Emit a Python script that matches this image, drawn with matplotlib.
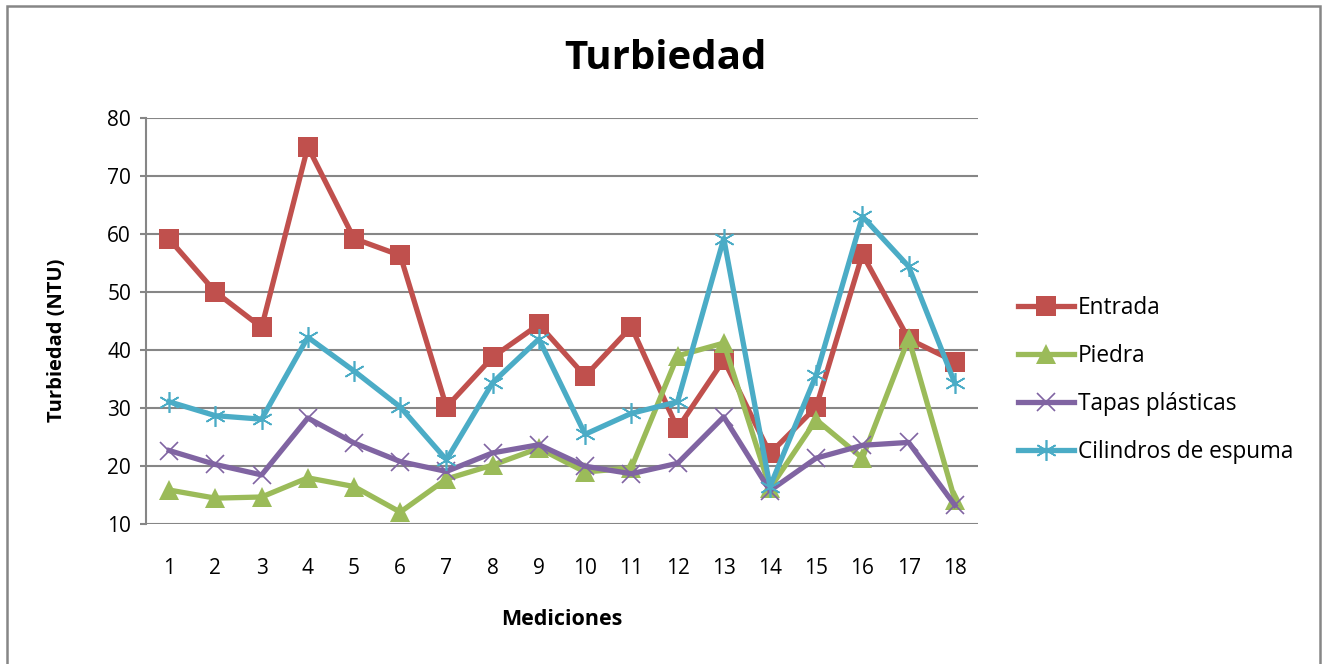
import numpy as np
import matplotlib
matplotlib.use("Agg")
import matplotlib.pyplot as plt
from matplotlib.patches import Rectangle

mediciones = list(range(1, 19))
entrada = [59.1, 50.0, 43.9, 75.0, 59.2, 56.3, 30.2, 38.8, 44.4,
           35.5, 44.0, 26.5, 38.3, 22.2, 30.2, 56.5, 41.9, 38.0]
piedra = [15.9, 14.5, 14.7, 18.0, 16.5, 12.1, 17.8, 20.2, 23.1,
          19.0, 19.7, 39.0, 41.2, 16.2, 28.0, 21.4, 42.0, 14.2]
tapas = [22.7, 20.3, 18.5, 28.3, 24.0, 20.8, 19.1, 22.3, 23.7,
         20.0, 18.7, 20.5, 28.5, 15.8, 21.4, 23.6, 24.1, 13.3]
cilindros = [31.1, 28.7, 28.1, 42.2, 36.4, 30.2, 21.1, 34.4, 41.9,
             25.5, 29.1, 31.1, 59.2, 16.5, 35.7, 63.0, 54.4, 34.3]

plt.rcParams['font.family'] = ['Open Sans', 'DejaVu Sans']

fig = plt.figure(figsize=(13.23, 6.64), dpi=100)
ax = fig.add_axes([0.1104, 0.2104, 0.6288, 0.6123])

series = [
    ("Entrada", entrada, "#C0504D", "s", 14, 0),
    ("Piedra", piedra, "#9BBB59", "^", 14, 0),
    ("Tapas plásticas", tapas, "#8064A2", "x", 13, 1.2),
    ("Cilindros de espuma", cilindros, "#4BACC6", (6, 2, 0), 15, 1.2),
]
for name, vals, col, mk, ms, mew in series:
    ax.plot(mediciones, vals, color=col, lw=3.8, marker=mk, ms=ms,
            markeredgewidth=mew, markeredgecolor=col, label=name,
            solid_joinstyle='round')

ax.set_xlim(0.5, 18.5)
ax.set_ylim(10, 80)
ax.set_yticks(range(10, 81, 10))
ax.set_xticks(mediciones)
ax.yaxis.grid(True, color="#868686", lw=1.5)
ax.set_axisbelow(True)
for s in ["top", "right", "bottom"]:
    ax.spines[s].set_visible(False)
ax.spines["left"].set_color("#868686")
ax.spines["left"].set_linewidth(1.5)
ax.tick_params(axis="y", length=4.3, width=1.5, color="#868686", labelsize=15, pad=6.5)
ax.tick_params(axis="x", length=0, labelsize=15, pad=24)

ax.set_xlabel("Mediciones", fontsize=15.5, fontweight="bold")
ax.xaxis.set_label_coords(0.5, -0.2353)
ax.xaxis.label.set_va("center")
ax.set_ylabel("Turbiedad (NTU)", fontsize=14.5, fontweight="bold")
ax.yaxis.set_label_coords(-0.107, 0.4535)
ax.yaxis.label.set_va("center")
fig.text(0.503, 0.912, "Turbiedad", fontsize=29, fontweight="bold",
         ha="center", va="center")

leg = fig.legend(loc="center left", bbox_to_anchor=(0.7695, 0.428), frameon=False,
                 fontsize=16.3, handlelength=2.45, handletextpad=0.2,
                 labelspacing=1.06, borderaxespad=0, borderpad=0)

fig.patches.append(Rectangle((0.005, -0.05), 0.993, 1.041, transform=fig.transFigure,
                             fill=False, edgecolor="#868686", lw=1.8))

fig.savefig("out.png", dpi=100)
